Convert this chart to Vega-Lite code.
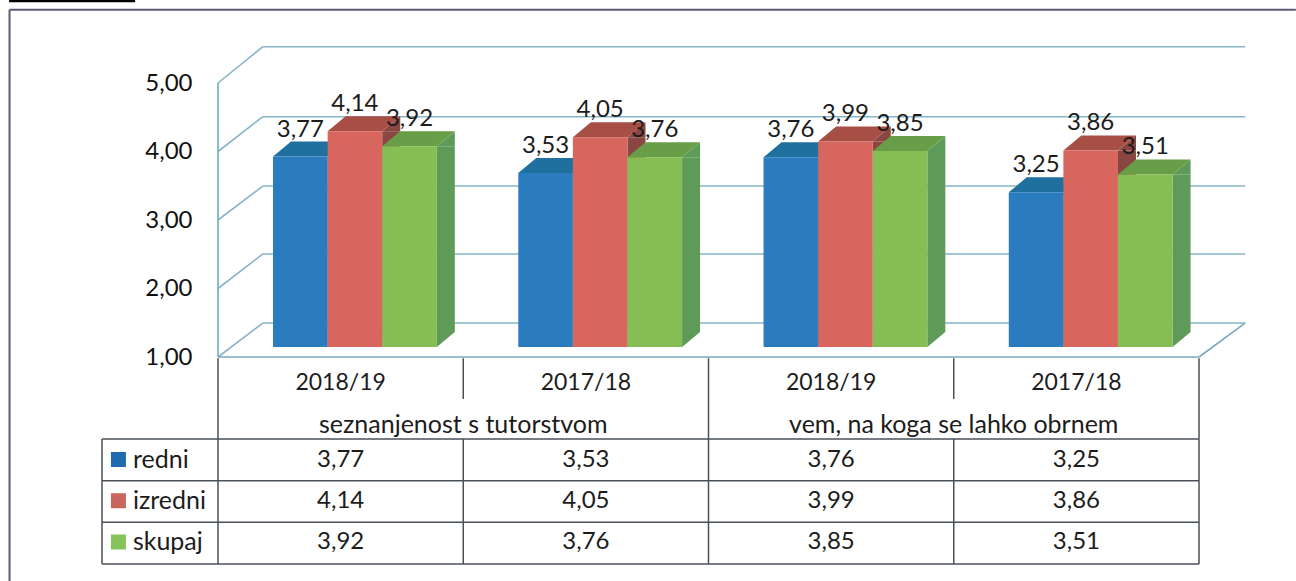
{
"$schema":"https://vega.github.io/schema/vega-lite/v6.json",
"width":1296,"height":581,"padding":0,"autosize":{"type":"none"},"background":"#ffffff",
"config":{"view":{"stroke":null},"text":{"font":"Lato","fontSize":25,"fill":"#1c1c1c"},"axis":{"labelFont":"Lato"}},
"datasets":{
"bars":[
{"measure":"seznanjenost s tutorstvom","year":"2018/19","period":"s1819","series":"redni","value":3.77,"label":"3,77"},
{"measure":"seznanjenost s tutorstvom","year":"2018/19","period":"s1819","series":"izredni","value":4.14,"label":"4,14"},
{"measure":"seznanjenost s tutorstvom","year":"2018/19","period":"s1819","series":"skupaj","value":3.92,"label":"3,92"},
{"measure":"seznanjenost s tutorstvom","year":"2017/18","period":"s1718","series":"redni","value":3.53,"label":"3,53"},
{"measure":"seznanjenost s tutorstvom","year":"2017/18","period":"s1718","series":"izredni","value":4.05,"label":"4,05"},
{"measure":"seznanjenost s tutorstvom","year":"2017/18","period":"s1718","series":"skupaj","value":3.76,"label":"3,76"},
{"measure":"vem, na koga se lahko obrnem","year":"2018/19","period":"v1819","series":"redni","value":3.76,"label":"3,76"},
{"measure":"vem, na koga se lahko obrnem","year":"2018/19","period":"v1819","series":"izredni","value":3.99,"label":"3,99"},
{"measure":"vem, na koga se lahko obrnem","year":"2018/19","period":"v1819","series":"skupaj","value":3.85,"label":"3,85"},
{"measure":"vem, na koga se lahko obrnem","year":"2017/18","period":"v1718","series":"redni","value":3.25,"label":"3,25"},
{"measure":"vem, na koga se lahko obrnem","year":"2017/18","period":"v1718","series":"izredni","value":3.86,"label":"3,86"},
{"measure":"vem, na koga se lahko obrnem","year":"2017/18","period":"v1718","series":"skupaj","value":3.51,"label":"3,51"}
],
"grid":[{"v":1,"vBack":1.496},{"v":2,"vBack":2.504},{"v":3,"vBack":3.496},{"v":4,"vBack":4.508},{"v":5,"vBack":5.53}],
"wire":[
{"x0":0,"x1":0,"y0":1,"y1":5},
{"x0":0,"x1":4,"y0":1,"y1":1},
{"x0":4,"x1":4.188,"y0":1,"y1":1.496}
],
"frame":[
{"x0":-0.85,"x1":4.395,"y0":6.07,"y1":6.07},
{"x0":-0.85,"x1":-0.85,"y0":6.07,"y1":-2.27}
],
"block":[{"x0":-0.852,"x1":-0.338,"y0":6.22,"y1":6.18}],
"tableRules":[
{"x0":-0.473,"x1":4,"y0":0,"y1":0},
{"x0":-0.473,"x1":4,"y0":1,"y1":1},
{"x0":-0.473,"x1":4,"y0":2,"y1":2},
{"x0":-0.473,"x1":4,"y0":3,"y1":3},
{"x0":-0.473,"x1":-0.473,"y0":0,"y1":3},
{"x0":0,"x1":0,"y0":-1.94,"y1":3},
{"x0":1,"x1":1,"y0":-1.94,"y1":-0.96},
{"x0":1,"x1":1,"y0":0,"y1":3},
{"x0":2,"x1":2,"y0":-1.94,"y1":3},
{"x0":3,"x1":3,"y0":-1.94,"y1":-0.96},
{"x0":3,"x1":3,"y0":0,"y1":3},
{"x0":4,"x1":4,"y0":-1.94,"y1":3}
],
"years":[
{"text":"2018/19","col":0.5,"row":-1.34},
{"text":"2017/18","col":1.5,"row":-1.34},
{"text":"2018/19","col":2.5,"row":-1.34},
{"text":"2017/18","col":3.5,"row":-1.34}
],
"groups":[
{"text":"seznanjenost s tutorstvom","col":1,"row":-0.34},
{"text":"vem, na koga se lahko obrnem","col":3,"row":-0.34}
],
"series":[{"series":"redni"},{"series":"izredni"},{"series":"skupaj"}]
},
"resolve":{"scale":{"x":"independent","y":"independent","color":"independent","xOffset":"independent"}},
"layer":[
{"mark":{"type":"rect","color":"#000000"},"data":{"name":"block"},
 "encoding":{"x":{"field":"x0","type":"quantitative","axis":null,"scale":{"domain":[0,4],"range":[218,1199],"nice":false,"zero":false}},"x2":{"field":"x1"},
 "y":{"field":"y0","type":"quantitative","axis":null,"scale":{"domain":[1,5],"range":[357,83],"nice":false,"zero":false}},"y2":{"field":"y1"}}},
{"data":{"name":"grid"},
 "encoding":{"y":{"field":"v","type":"quantitative","scale":{"domain":[1,5],"range":[357,83],"nice":false,"zero":false},"axis":{"title":null,"values":[1,2,3,4,5],"offset":-192,"domain":false,"ticks":false,"grid":false,"labelPadding":0,"labelFontSize":24,"labelColor":"#111111","labelExpr":"replace(format(datum.value,'.2f'),'.',',')"}},
 "x":{"datum":0,"type":"quantitative","axis":null,"scale":{"domain":[0,4],"range":[218,1199],"nice":false,"zero":false}}},
 "layer":[
  {"mark":{"type":"rule","color":"#86b4c9","strokeWidth":1.6},"encoding":{"x2":{"datum":0.183},"y2":{"field":"vBack"}}},
  {"mark":{"type":"rule","color":"#86b4c9","strokeWidth":1.6},"encoding":{"x":{"datum":0.183,"type":"quantitative"},"x2":{"datum":4.188},"y":{"field":"vBack","type":"quantitative"}}}
 ]},
{"mark":{"type":"rule","color":"#79a9bd","strokeWidth":1.6},"data":{"name":"wire"},
 "encoding":{"x":{"field":"x0","type":"quantitative","axis":null,"scale":{"domain":[0,4],"range":[218,1199],"nice":false,"zero":false}},"x2":{"field":"x1"},
 "y":{"field":"y0","type":"quantitative","axis":null,"scale":{"domain":[1,5],"range":[357,83],"nice":false,"zero":false}},"y2":{"field":"y1"}}},
{"mark":{"type":"rule","color":"#5b5b74","strokeWidth":2},"data":{"name":"frame"},
 "encoding":{"x":{"field":"x0","type":"quantitative","axis":null,"scale":{"domain":[0,4],"range":[218,1199],"nice":false,"zero":false}},"x2":{"field":"x1"},
 "y":{"field":"y0","type":"quantitative","axis":null,"scale":{"domain":[1,5],"range":[357,83],"nice":false,"zero":false}},"y2":{"field":"y1"}}},
{"mark":{"type":"rule","color":"#4a5058","strokeWidth":1.5},"data":{"name":"tableRules"},
 "encoding":{"x":{"field":"x0","type":"quantitative","axis":null,"scale":{"domain":[0,4],"range":[218,1199],"nice":false,"zero":false}},"x2":{"field":"x1"},
 "y":{"field":"y0","type":"quantitative","axis":null,"scale":{"domain":[0,3],"range":[439,564],"nice":false,"zero":false}},"y2":{"field":"y1"}}},
{"mark":{"type":"bar","width":18},"data":{"name":"bars"},
 "encoding":{
  "x":{"field":"period","type":"nominal","axis":null,"sort":null,"scale":{"domain":["s1819","s1718","v1819","v1718"],"range":[268.6,1249.6],"paddingInner":0,"paddingOuter":0}},
  "xOffset":{"field":"series","type":"nominal","sort":null,"scale":{"domain":["redni","izredni","skupaj"],"paddingInner":0,"paddingOuter":0.746}},
  "y":{"field":"value","type":"quantitative","axis":null,"scale":{"domain":[1,5],"range":[347,72],"nice":false,"zero":false}},
  "y2":{"datum":1.218},
  "color":{"field":"series","type":"nominal","legend":null,"scale":{"domain":["redni","izredni","skupaj"],"range":["#1c5f8c","#8a4640","#5f9b58"]}}}},
{"data":{"name":"bars"},
 "encoding":{
  "x":{"field":"period","type":"nominal","axis":null,"sort":null,"scale":{"domain":["s1819","s1718","v1819","v1718"],"range":[232.3,1213.3],"paddingInner":0,"paddingOuter":0}},
  "xOffset":{"field":"series","type":"nominal","sort":null,"scale":{"domain":["redni","izredni","skupaj"],"paddingInner":0,"paddingOuter":0.746}},
  "y":{"field":"value","type":"quantitative","axis":null,"scale":{"domain":[1,5],"range":[347,72],"nice":false,"zero":false}}},
 "resolve":{"scale":{"color":"independent"}},
 "layer":[
  {"mark":{"type":"point","filled":true,"opacity":1,"size":4,"shape":"M27.3,0L45.3,-15L27.3,-15Z"},"encoding":{"y":{"datum":1,"type":"quantitative"},"color":{"field":"series","type":"nominal","legend":null,"scale":{"domain":["redni","izredni","skupaj"],"range":["#1c5f8c","#8a4640","#5f9b58"]}}}},
  {"mark":{"type":"point","filled":true,"opacity":1,"size":4,"shape":"M27.3,0L45.3,-15L45.3,0Z"},"encoding":{"color":{"field":"series","type":"nominal","legend":null,"scale":{"domain":["redni","izredni","skupaj"],"range":["#1c5f8c","#8a4640","#5f9b58"]}}}},
  {"mark":{"type":"point","filled":true,"opacity":1,"size":4,"shape":"M-27.3,0L27.3,0L45.3,-15L-9.3,-15Z"},"encoding":{"color":{"field":"series","type":"nominal","legend":null,"scale":{"domain":["redni","izredni","skupaj"],"range":["#1f6f9f","#a84f45","#689e48"]}}}},
  {"mark":{"type":"bar"},"encoding":{"y2":{"datum":1},"color":{"field":"series","type":"nominal","legend":null,"scale":{"domain":["redni","izredni","skupaj"],"range":["#2a7cbf","#d9655f","#87bd55"]}}}},
  {"mark":{"type":"text","dy":-27,"fontSize":24},"encoding":{"text":{"field":"label"}}}
 ]},
{"mark":{"type":"text","fontSize":24},"data":{"name":"bars"},
 "encoding":{"x":{"field":"period","type":"nominal","axis":null,"sort":null,"scale":{"domain":["s1819","s1718","v1819","v1718"],"range":[218,1199],"paddingInner":0,"paddingOuter":0}},
 "y":{"field":"series","type":"nominal","axis":null,"sort":null,"scale":{"type":"point","domain":["redni","izredni","skupaj"],"range":[459.5,542],"padding":0}},
 "text":{"field":"label"}}},
{"mark":{"type":"text","fontSize":23},"data":{"name":"years"},
 "encoding":{"x":{"field":"col","type":"quantitative","axis":null,"scale":{"domain":[0,4],"range":[218,1199],"nice":false,"zero":false}},
 "y":{"field":"row","type":"quantitative","axis":null,"scale":{"domain":[0,3],"range":[439,564],"nice":false,"zero":false}},
 "text":{"field":"text"}}},
{"mark":{"type":"text","fontSize":25},"data":{"name":"groups"},
 "encoding":{"x":{"field":"col","type":"quantitative","axis":null,"scale":{"domain":[0,4],"range":[218,1199],"nice":false,"zero":false}},
 "y":{"field":"row","type":"quantitative","axis":null,"scale":{"domain":[0,3],"range":[439,564],"nice":false,"zero":false}},
 "text":{"field":"text"}}},
{"data":{"name":"series"},
 "encoding":{"y":{"field":"series","type":"nominal","axis":null,"sort":null,"scale":{"type":"point","domain":["redni","izredni","skupaj"],"range":[459.5,542],"padding":0}}},
 "layer":[
  {"mark":{"type":"square","size":225,"opacity":1},"encoding":{"x":{"datum":-0.406,"type":"quantitative","axis":null,"scale":{"domain":[0,4],"range":[218,1199],"nice":false,"zero":false}},"color":{"field":"series","type":"nominal","legend":null,"scale":{"domain":["redni","izredni","skupaj"],"range":["#1f6cb0","#c8665e","#86c35a"]}}}},
  {"mark":{"type":"text","align":"left"},"encoding":{"x":{"datum":-0.347,"type":"quantitative","axis":null,"scale":{"domain":[0,4],"range":[218,1199],"nice":false,"zero":false}},"text":{"field":"series"}}}
 ]}
]
}
